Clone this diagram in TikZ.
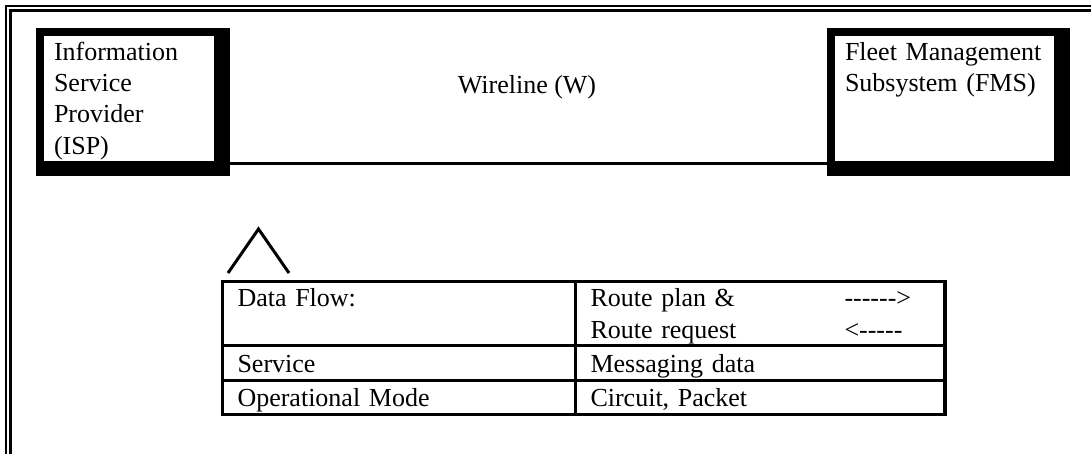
\documentclass[tikz,border=0pt]{standalone}
\usepackage{fontspec}
\setmainfont{Liberation Serif}[Ligatures=TeXOff]
\usetikzlibrary{positioning,backgrounds}
\newdimen\px \px=0.75pt
\tikzset{
  txt/.style={
    font=\fontsize{19.5pt}{23.6pt}\selectfont
  },
  sysbox/.style={
    txt,
    draw,
    line width=8\px,
    fill=white,
    outer sep=0pt,
    inner xsep=14\px,
    inner ysep=0pt,
    text height=28\px,
    text depth=105\px,
    align=left
  },
  cell/.style={
    txt,
    draw,
    line width=3.5\px,
    outer sep=0pt,
    inner xsep=15\px,
    inner ysep=0pt,
    align=left
  },
  keycol/.style={cell, text width=323\px},
  valcol/.style={cell, text width=339.5\px},
  rowa/.style={text height=25.2\px, text depth=38.8\px},
  rowb/.style={text height=27.2\px, text depth=7.8\px},
  rowc/.style={text height=26.2\px, text depth=7.8\px},
  wire/.style={line width=3\px},
  frame/.style={line width=2.2\px},
  lbl/.style={txt, inner sep=0pt}
}

\begin{document}
\begin{tikzpicture}[x=0.75pt, y=-0.75pt]
  \useasboundingbox (0,0) rectangle (1091,454);

  \draw[frame] (6,454) -- (6,6) -- (1091,6);
  \draw[frame] (10.5,454) -- (10.5,10.5) -- (1091,10.5);

  \node[sysbox, text width=150\px, anchor=north west] (isp) at (40,32) {Information\\Service\\Provider\\(ISP)};
  \node[sysbox, text width=199\px, right=613\px of isp] (fms) {Fleet Management\\Subsystem (FMS)};

  \begin{scope}[on background layer]
    \fill ([shift={(-4,-4)}]isp.north west) rectangle ([shift={(12,11)}]isp.south east);
    \fill ([shift={(-4,-4)}]fms.north west) rectangle ([shift={(12,11)}]fms.south east);
  \end{scope}

  \draw[wire] ([yshift=2\px]isp.south east) -- ([yshift=2\px]fms.south west);
  \node[lbl, anchor=base] (wireline) at (527,93) {Wireline (W)};

  \draw[line width=3\px] (228,273) -- (258.5,229) -- (289,273);

  \node[keycol, rowa, anchor=north west] (flow) at (222.5,281.5) {Data Flow:};
  \node[valcol, rowa, right=0pt of flow] (flowv) {\makebox[254\px][l]{Route plan \&}------>\\\makebox[254\px][l]{Route request}<-----};
  \node[keycol, rowb, below=0pt of flow] (svc) {Service};
  \node[valcol, rowb, below=0pt of flowv] (svcv) {Messaging data};
  \node[keycol, rowc, below=0pt of svc] (mode) {Operational Mode};
  \node[valcol, rowc, below=0pt of svcv] (modev) {Circuit, Packet};
\end{tikzpicture}
\end{document}
